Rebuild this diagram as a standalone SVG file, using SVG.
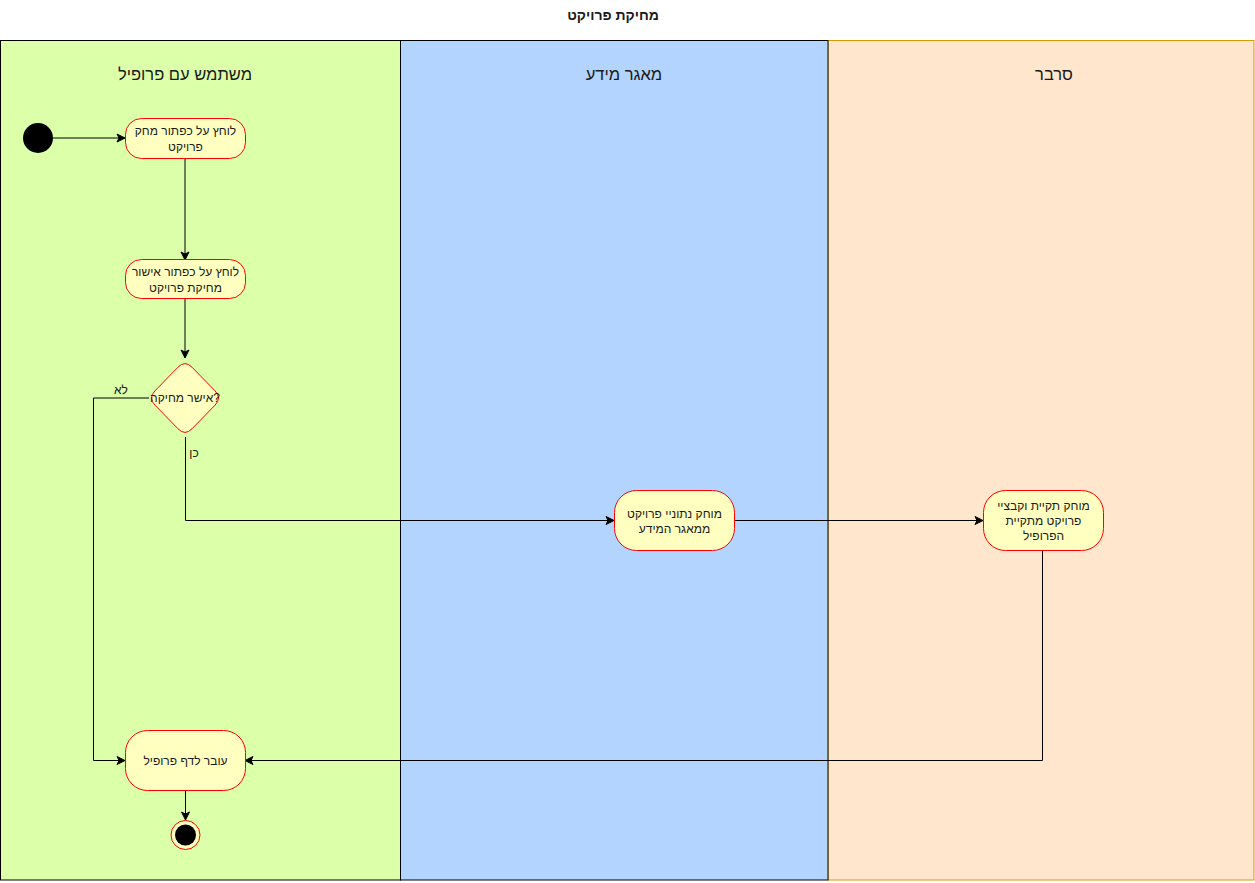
<svg xmlns="http://www.w3.org/2000/svg" width="1255" height="883" viewBox="0 0 1255 883">
  <style>
    text { font-family: "Liberation Sans", Arial, "DejaVu Sans", sans-serif; fill: #1a1a1a; }
    .title { font-size: 14px; font-weight: bold; }
    .lane-title { font-size: 16.5px; }
    .label { font-size: 12px; }
    .action { fill: #ffffc0; stroke: #ff0000; stroke-width: 1; }
    .edge { fill: none; stroke: #000000; stroke-width: 1; }
  </style>
  <defs>
    <marker id="arrow" markerWidth="10" markerHeight="10" refX="9" refY="5" orient="auto" markerUnits="userSpaceOnUse">
      <path d="M1,1 L9,5 L1,9 L3,5 Z" fill="#000000" stroke="#000000" stroke-width="1"/>
    </marker>
  </defs>

  <rect x="0" y="0" width="1255" height="883" fill="#ffffff"/>

  <!-- diagram title -->
  <text class="title" x="613" y="20" text-anchor="middle">מחיקת פרויקט</text>

  <!-- swimlanes -->
  <g id="lane-server">
    <rect x="828" y="40.5" width="426" height="839.5" fill="#ffe6cc" stroke="#d79b00"/>
    <text class="lane-title" x="1054" y="80" text-anchor="middle">סרבר</text>
  </g>
  <g id="lane-database">
    <rect x="400.5" y="40.5" width="427.5" height="839.5" fill="#b3d4ff" stroke="#000000"/>
    <text class="lane-title" x="624" y="80" text-anchor="middle">מאגר מידע</text>
  </g>
  <g id="lane-user">
    <rect x="0.5" y="40.5" width="400" height="839.5" fill="#dcffaa" stroke="#000000"/>
    <text class="lane-title" x="185" y="80" text-anchor="middle">משתמש עם פרופיל</text>
  </g>

  <!-- connectors -->
  <g id="connectors">
    <path class="edge" d="M53,138 L125,138" marker-end="url(#arrow)"/>
    <path class="edge" d="M185,158 L185,260" marker-end="url(#arrow)"/>
    <path class="edge" d="M185,298 L185,358" marker-end="url(#arrow)"/>
    <path class="edge" d="M149,398 L93.5,398 L93.5,760.5 L125,760.5" marker-end="url(#arrow)"/>
    <text class="label" x="121" y="394" text-anchor="middle">לא</text>
    <path class="edge" d="M185.5,437 L185.5,520.5 L614,520.5" marker-end="url(#arrow)"/>
    <text class="label" x="194" y="457" text-anchor="middle">כן</text>
    <path class="edge" d="M735,520.5 L983,520.5" marker-end="url(#arrow)"/>
    <path class="edge" d="M1042.5,550 L1042.5,760.5 L245,760.5" marker-end="url(#arrow)"/>
    <path class="edge" d="M185.5,790 L185.5,820" marker-end="url(#arrow)"/>
  </g>

  <!-- nodes -->
  <g id="start">
    <circle cx="38" cy="138" r="15" fill="#000000"/>
  </g>
  <g id="click-delete">
    <rect class="action" x="125.5" y="118.5" width="120" height="40" rx="16" ry="16"/>
    <text class="label" x="185.5" y="135" text-anchor="middle">לוחץ על כפתור מחק</text>
    <text class="label" x="185.5" y="151" text-anchor="middle">פרויקט</text>
  </g>
  <g id="click-confirm">
    <rect class="action" x="125.5" y="259.5" width="120" height="39" rx="16" ry="16"/>
    <text class="label" x="185.5" y="276" text-anchor="middle">לוחץ על כפתור אישור</text>
    <text class="label" x="185.5" y="292" text-anchor="middle">מחיקת פרויקט</text>
  </g>
  <g id="confirm-decision">
    <path class="action" d="M192,367.2 L215,390.8 Q222,398 215,405.2 L192,428.8 Q185,436 178,428.8 L155,405.2 Q148,398 155,390.8 L178,367.2 Q185,360 192,367.2 Z"/>
    <text class="label" x="185" y="402" text-anchor="middle">אישר מחיקה?</text>
  </g>
  <g id="delete-db-data">
    <rect class="action" x="614.5" y="490.5" width="120" height="60" rx="22" ry="22"/>
    <text class="label" x="674.5" y="518" text-anchor="middle">מוחק נתוניי פרויקט</text>
    <text class="label" x="674.5" y="533" text-anchor="middle">ממאגר המידע</text>
  </g>
  <g id="delete-server-folder">
    <rect class="action" x="983.5" y="490.5" width="120" height="60" rx="22" ry="22"/>
    <text class="label" x="1043.5" y="510" text-anchor="middle">מוחק תקיית וקבציי</text>
    <text class="label" x="1043.5" y="525" text-anchor="middle">פרויקט מתקיית</text>
    <text class="label" x="1043.5" y="540" text-anchor="middle">הפרופיל</text>
  </g>
  <g id="go-to-profile">
    <rect class="action" x="125.5" y="730.5" width="120" height="60" rx="22" ry="22"/>
    <text class="label" x="185.5" y="765" text-anchor="middle">עובר לדף פרופיל</text>
  </g>
  <g id="end">
    <circle cx="185.5" cy="835" r="14.5" fill="#ffffc0" stroke="#ff0000"/>
    <circle cx="185.5" cy="835" r="10.5" fill="#000000"/>
  </g>
</svg>
